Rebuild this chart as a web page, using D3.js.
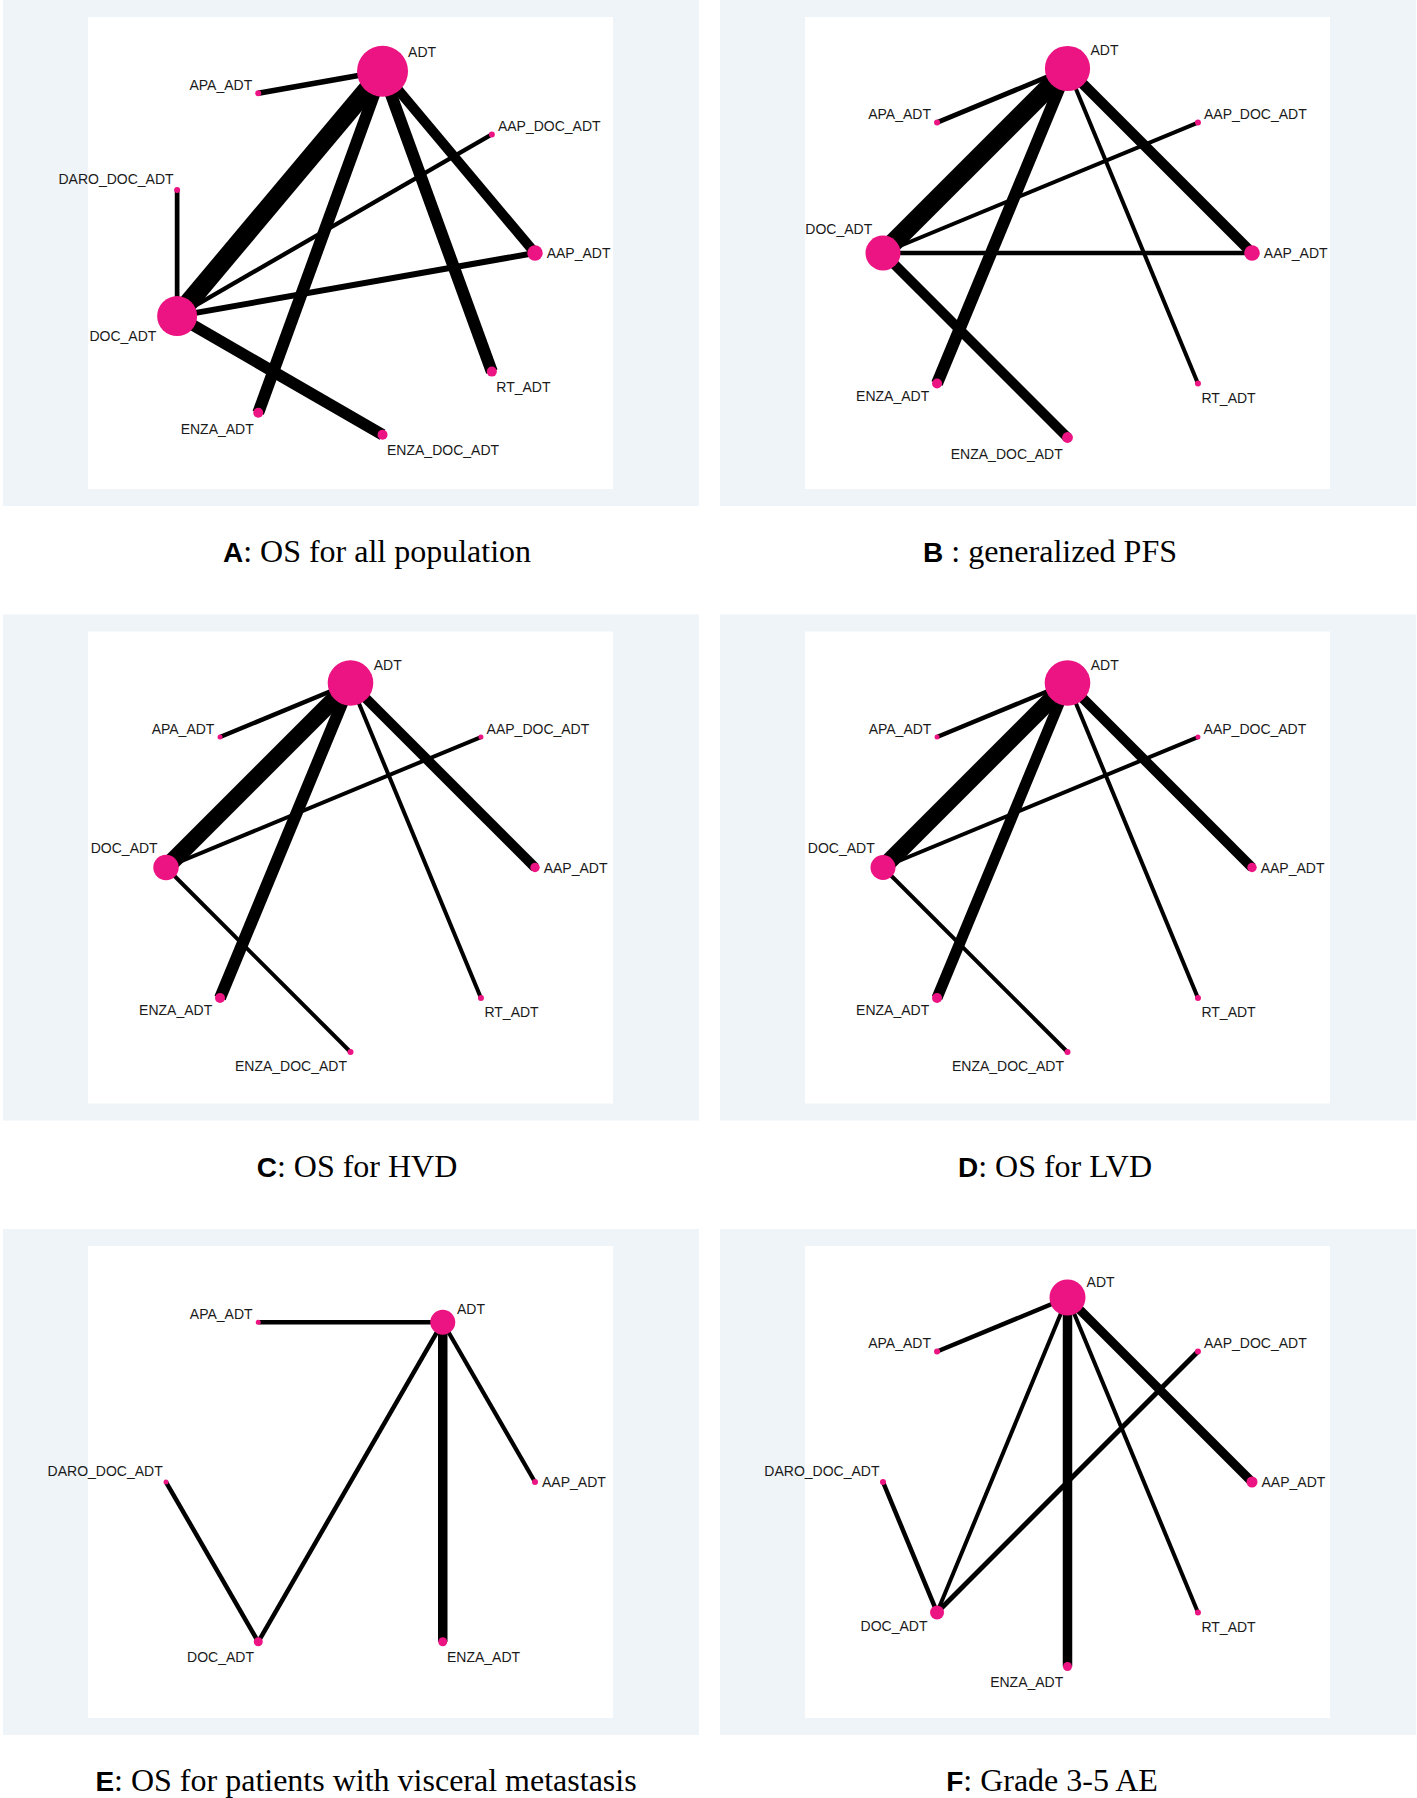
<!DOCTYPE html>
<html>
<head>
<meta charset="utf-8">
<script src="https://cdn.jsdelivr.net/npm/d3@7"></script>
<style>
body { margin: 0; background: #fff; }
</style>
</head>
<body>
<script>
// network plots, six panels, nodes in alphabetical order round a ring

// panel captions
var panelLetters = ["A", "B", "C", "D", "E", "F"];
var panelTitles = [": OS for all population", " : generalized PFS", ": OS for HVD",
    ": OS for LVD", ": OS for patients with visceral metastasis", ": Grade 3-5 AE"];

// A: OS for all population
var nodesA = ["AAP_ADT", "AAP_DOC_ADT", "ADT", "APA_ADT", "DARO_DOC_ADT", "DOC_ADT", "ENZA_ADT", "ENZA_DOC_ADT", "RT_ADT"];
var sizesA = [7.7, 3, 25.5, 3, 3, 20, 5, 5, 5];
var edgesA = [
    ["ADT", "DOC_ADT", 19], ["ADT", "APA_ADT", 5.5], ["ADT", "ENZA_ADT", 12],
    ["ADT", "RT_ADT", 12], ["ADT", "AAP_ADT", 10], ["DOC_ADT", "DARO_DOC_ADT", 4.7],
    ["DOC_ADT", "AAP_DOC_ADT", 4.3], ["DOC_ADT", "AAP_ADT", 6], ["DOC_ADT", "ENZA_DOC_ADT", 11.5]
];

// B: generalized PFS
var nodesB = ["AAP_ADT", "AAP_DOC_ADT", "ADT", "APA_ADT", "DOC_ADT", "ENZA_ADT", "ENZA_DOC_ADT", "RT_ADT"];
var sizesB = [7.8, 3, 22.6, 3, 17.5, 5, 5.4, 3];
var edgesB = [
    ["ADT", "DOC_ADT", 19], ["ADT", "APA_ADT", 5], ["ADT", "ENZA_ADT", 12],
    ["ADT", "RT_ADT", 4], ["ADT", "AAP_ADT", 10.5], ["DOC_ADT", "AAP_DOC_ADT", 4],
    ["DOC_ADT", "AAP_ADT", 4.7], ["DOC_ADT", "ENZA_DOC_ADT", 10]
];

// C: OS for HVD
var nodesC = ["AAP_ADT", "AAP_DOC_ADT", "ADT", "APA_ADT", "DOC_ADT", "ENZA_ADT", "ENZA_DOC_ADT", "RT_ADT"];
var sizesC = [4.7, 2.5, 22.8, 2.5, 12.7, 5, 3, 3];
var edgesC = [
    ["ADT", "DOC_ADT", 17], ["ADT", "APA_ADT", 4.5], ["ADT", "ENZA_ADT", 12],
    ["ADT", "RT_ADT", 4], ["ADT", "AAP_ADT", 10], ["DOC_ADT", "AAP_DOC_ADT", 4],
    ["DOC_ADT", "ENZA_DOC_ADT", 4]
];

// D: OS for LVD
var nodesD = ["AAP_ADT", "AAP_DOC_ADT", "ADT", "APA_ADT", "DOC_ADT", "ENZA_ADT", "ENZA_DOC_ADT", "RT_ADT"];
var sizesD = [4.7, 2.5, 22.8, 2.5, 12.5, 5, 3, 3];
var edgesD = [
    ["ADT", "DOC_ADT", 17], ["ADT", "APA_ADT", 4.5], ["ADT", "ENZA_ADT", 11],
    ["ADT", "RT_ADT", 4], ["ADT", "AAP_ADT", 10], ["DOC_ADT", "AAP_DOC_ADT", 4],
    ["DOC_ADT", "ENZA_DOC_ADT", 4]
];

// E: OS for patients with visceral metastasis
var nodesE = ["AAP_ADT", "ADT", "APA_ADT", "DARO_DOC_ADT", "DOC_ADT", "ENZA_ADT"];
var sizesE = [3, 12.5, 2.5, 2.5, 4.5, 4.5];
var edgesE = [
    ["ADT", "APA_ADT", 4.5], ["ADT", "ENZA_ADT", 9.5], ["ADT", "AAP_ADT", 4.2],
    ["ADT", "DOC_ADT", 4.5], ["DOC_ADT", "DARO_DOC_ADT", 4.5]
];

// F: Grade 3-5 AE
var nodesF = ["AAP_ADT", "AAP_DOC_ADT", "ADT", "APA_ADT", "DARO_DOC_ADT", "DOC_ADT", "ENZA_ADT", "RT_ADT"];
var sizesF = [5.5, 3, 18, 3, 3, 7, 4.5, 3];
var edgesF = [
    ["ADT", "APA_ADT", 4.5], ["ADT", "AAP_ADT", 9], ["ADT", "ENZA_ADT", 9.5],
    ["ADT", "DOC_ADT", 4], ["ADT", "RT_ADT", 4], ["DOC_ADT", "DARO_DOC_ADT", 4.5],
    ["DOC_ADT", "AAP_DOC_ADT", 5]
];

var panels = [
    { nodes: nodesA, sizes: sizesA, edges: edgesA },
    { nodes: nodesB, sizes: sizesB, edges: edgesB },
    { nodes: nodesC, sizes: sizesC, edges: edgesC },
    { nodes: nodesD, sizes: sizesD, edges: edgesD },
    { nodes: nodesE, sizes: sizesE, edges: edgesE },
    { nodes: nodesF, sizes: sizesF, edges: edgesF }
];

// layout
var w = 1417, h = 1798;
var colX = [3, 720], rowY = [0, 614.5, 1229];
var boxW = 696, boxH = 506;
var innerDX = 85, innerDY = 17, innerW = 525, innerH = 472;
var ringR = 184.5;
var captionX = [377, 1050, 357, 1055, 366, 1052];
var captionY = 562;
var pink = "#ec1383";

var svg = d3.select("body")
    .append("svg")
    .attr("width", w)
    .attr("height", h);

var sizeScale = d3.scaleLinear().domain([0, 30]).range([0, 30]);
var widthScale = d3.scaleLinear().domain([0, 20]).range([0, 20]);

// Stata style clock position of a label from the node's angle
function clockPos(t) {
    if (t < 20 || t > 340) return 3;
    if (t <= 100) return 2;
    if (t < 150) return 10;
    if (t <= 190) return 11;
    if (t <= 230) return 8;
    if (t <= 275) return 7;
    return 5;
}

panels.forEach(function(p, i) {
    var col = i % 2, row = Math.floor(i / 2);
    var g = svg.append("g")
        .attr("transform", "translate(" + colX[col] + "," + rowY[row] + ")");

    g.append("rect")
        .attr("width", boxW)
        .attr("height", boxH)
        .attr("fill", "#eef4f7");

    g.append("rect")
        .attr("x", innerDX)
        .attr("y", innerDY)
        .attr("width", innerW)
        .attr("height", innerH)
        .attr("fill", "#ffffff");

    var cx = innerDX + innerW / 2, cy = innerDY + innerH / 2;
    var x = d3.scaleLinear().domain([-1, 1]).range([cx - ringR, cx + ringR]);
    var y = d3.scaleLinear().domain([-1, 1]).range([cy + ringR, cy - ringR]);
    var angle = d3.scaleLinear().domain([0, p.nodes.length]).range([0, 360]);

    var nodes = p.nodes.map(function(name, k) {
        var t = angle(k), a = t * Math.PI / 180;
        return { name: name, t: t, x: x(Math.cos(a)), y: y(Math.sin(a)), r: sizeScale(p.sizes[k]) };
    });
    var byName = {};
    nodes.forEach(function(n) { byName[n.name] = n; });

    g.selectAll(".edge")
        .data(p.edges)
        .enter()
        .append("line")
        .attr("class", "edge")
        .attr("x1", function(d) { return byName[d[0]].x; })
        .attr("y1", function(d) { return byName[d[0]].y; })
        .attr("x2", function(d) { return byName[d[1]].x; })
        .attr("y2", function(d) { return byName[d[1]].y; })
        .attr("stroke", "#000")
        .attr("stroke-width", function(d) { return widthScale(d[2]); });

    g.selectAll(".node")
        .data(nodes)
        .enter()
        .append("circle")
        .attr("class", "node")
        .attr("cx", function(d) { return d.x; })
        .attr("cy", function(d) { return d.y; })
        .attr("r", function(d) { return d.r; })
        .attr("fill", pink);

    var capH = 10;
    g.selectAll(".lab")
        .data(nodes)
        .enter()
        .append("text")
        .attr("class", "lab")
        .each(function(d) {
            var phi = (90 - 30 * clockPos(d.t)) * Math.PI / 180;
            var dist = d.r + 4;
            var c = Math.cos(phi), s = Math.sin(phi);
            var px = d.x + dist * c, py = d.y - dist * s;
            var anchor = c > 0.2 ? "start" : (c < -0.2 ? "end" : "middle");
            var base = s > 0.2 ? py : (s < -0.2 ? py + capH + 3 : py + capH / 2);
            d3.select(this)
                .attr("x", px)
                .attr("y", base)
                .attr("text-anchor", anchor);
        })
        .attr("font-family", "'Liberation Sans', Arial, sans-serif")
        .attr("font-size", 14)
        .attr("fill", "#1a1a1a")
        .text(function(d) { return d.name; });

    var cap = g.append("text")
        .attr("x", captionX[i] - colX[col])
        .attr("y", captionY)
        .attr("text-anchor", "middle")
        .attr("fill", "#000");
    cap.append("tspan")
        .attr("font-family", "'Liberation Sans', Arial, sans-serif")
        .attr("font-weight", "bold")
        .attr("font-size", 28)
        .text(panelLetters[i]);
    cap.append("tspan")
        .attr("font-family", "'Liberation Serif', 'Times New Roman', serif")
        .attr("font-size", 32)
        .text(panelTitles[i]);
});
</script>
</body>
</html>
